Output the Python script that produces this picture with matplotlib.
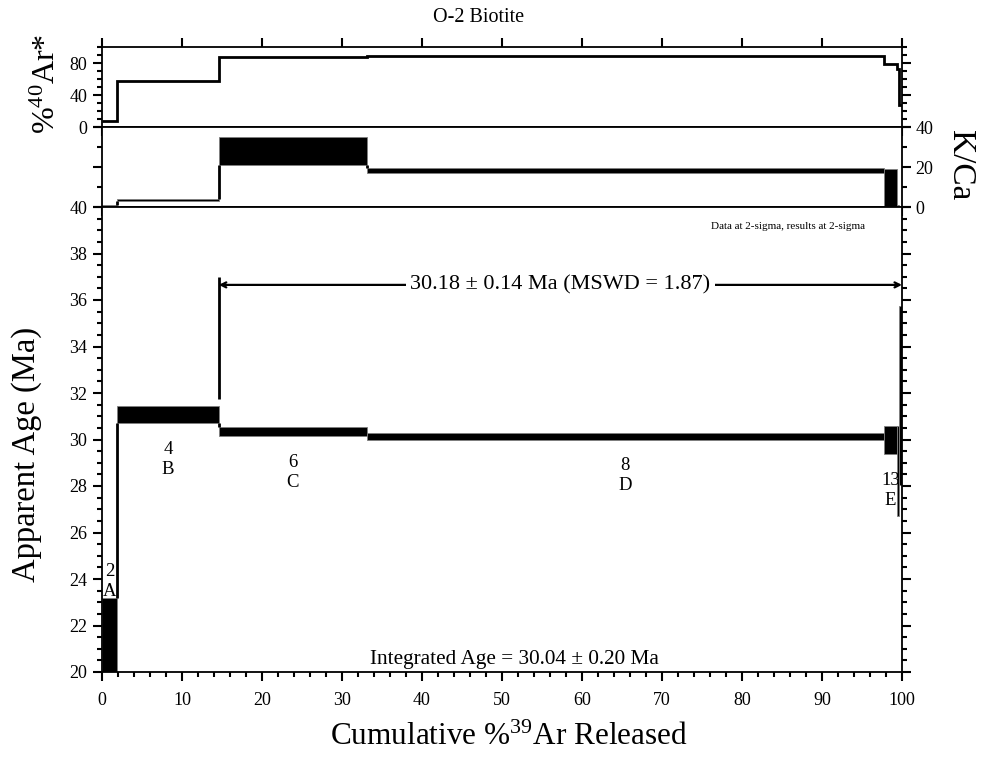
import matplotlib.pyplot as plt
from matplotlib.patches import Rectangle
from matplotlib.ticker import MultipleLocator, FixedLocator

plt.rcParams['font.family'] = ['Liberation Serif', 'DejaVu Serif']
plt.rcParams['mathtext.default'] = 'regular'

# Step-heating results: cumulative %39Ar at the end of each step
cum39 = [1.9, 14.6, 33.1, 97.75, 99.4, 99.6, 100.0]
step_labels = ['2\nA', '4\nB', '6\nC', '8\nD', '13\nE', '', '']

# apparent age (Ma) and 2-sigma error per step
ages = [21.0, 31.06, 30.33, 30.14, 29.98, 28.65, 31.90]
age_err = [2.2, 0.36, 0.20, 0.15, 0.62, 1.95, 3.85]

# K/Ca and 2-sigma error per step
kca = [0.85, 3.6, 27.95, 18.2, 9.2, 0.5, 0.3]
kca_err = [0.3, 0.6, 7.05, 1.4, 9.8, 0.4, 0.3]

# radiogenic 40Ar per step
rad40 = [7.0, 58.0, 88.0, 88.2, 78.4, 72.0, 28.0]

# plateau spans steps C..G
plateau_first, plateau_last = 2, 6
plateau_y = 36.65
plateau_text = '30.18 ± 0.14 Ma (MSWD = 1.87)'
integrated_text = 'Integrated Age = 30.04 ± 0.20 Ma'

edges = [0.0] + cum39
W, H = 986, 759


def draw_boxes(ax, vals, errs):
    # one filled box per step, joined by vertical connectors
    for i, (v, e) in enumerate(zip(vals, errs)):
        x0, x1 = edges[i], edges[i + 1]
        ax.add_patch(Rectangle((x0, v - e), x1 - x0, 2 * e,
                               facecolor='black', edgecolor='#808080', lw=0.6))
        if i > 0:
            pv, pe = vals[i - 1], errs[i - 1]
            lo = min(pv + pe, v + e)
            hi = max(pv - pe, v - e)
            if hi > lo:
                ax.vlines(x0, lo, hi, colors='black', lw=2)


def style_axis(ax):
    ax.set_xlim(0, 100)
    ax.xaxis.set_major_locator(MultipleLocator(10))
    ax.xaxis.set_minor_locator(MultipleLocator(2))
    ax.tick_params(which='both', direction='out', width=1.5, left=True, right=True,
                   labelsize=13, color='black')
    ax.tick_params(which='major', length=6.5)
    ax.tick_params(which='minor', length=3.5)
    ax.tick_params(axis='y', pad=4)
    for s in ax.spines.values():
        s.set_linewidth(1.3)


fig = plt.figure(figsize=(W / 100, H / 100), dpi=100)
ax_top = fig.add_axes([102 / W, 1 - 127 / H, 800 / W, 80 / H])
ax_kca = fig.add_axes([102 / W, 1 - 207 / H, 800 / W, 80 / H])
ax_age = fig.add_axes([102 / W, 1 - 672 / H, 800 / W, 465 / H])

for ax in (ax_top, ax_kca, ax_age):
    style_axis(ax)

# %40Ar* panel
ax_top.stairs(rad40, edges, baseline=None, color='black', lw=2)
ax_top.set_ylim(0, 100)
ax_top.yaxis.set_major_locator(FixedLocator([0, 40, 80]))
ax_top.yaxis.set_minor_locator(MultipleLocator(10))
ax_top.tick_params(top=True, labelbottom=False)

# K/Ca panel
draw_boxes(ax_kca, kca, kca_err)
ax_kca.set_ylim(0, 40)
ax_kca.yaxis.set_major_locator(MultipleLocator(20))
ax_kca.yaxis.set_minor_locator(MultipleLocator(10))
ax_kca.tick_params(labelbottom=False, labelleft=False, labelright=True)
ax_kca.tick_params(axis='y', pad=3)

# age spectrum
draw_boxes(ax_age, ages, age_err)
ax_age.set_ylim(20, 40)
ax_age.yaxis.set_major_locator(MultipleLocator(2))
ax_age.yaxis.set_minor_locator(MultipleLocator(0.5))
ax_age.tick_params(axis='x', pad=8)

for i, lab in enumerate(step_labels):
    if not lab:
        continue
    mid = (edges[i] + edges[i + 1]) / 2
    lo = ages[i] - age_err[i]
    if lo < 20:
        ax_age.text(mid, ages[i] + age_err[i] - 0.1, lab, ha='center', va='bottom',
                    fontsize=13.5, linespacing=1.25)
    else:
        ax_age.text(mid, lo - 0.75, lab, ha='center', va='top',
                    fontsize=13.5, linespacing=1.25)

# plateau bracket
px0, px1 = edges[plateau_first], edges[plateau_last + 1]
tops = [a + e for a, e in zip(ages, age_err)]
ax_age.vlines(px0, max(tops[plateau_first - 1], tops[plateau_first]) + 0.34,
              plateau_y + 0.35, colors='black', lw=2)
ax_age.annotate('', xy=(px0, plateau_y), xytext=(px1, plateau_y),
                arrowprops=dict(arrowstyle='<->', lw=1.6, color='black',
                                shrinkA=0, shrinkB=0, mutation_scale=9))
ax_age.text((px0 + px1) / 2, plateau_y, plateau_text, ha='center', va='center',
            fontsize=16, bbox=dict(facecolor='white', edgecolor='none', pad=3))

ax_age.text(51.5, 20.53, integrated_text, ha='center', va='center', fontsize=15.3)
ax_age.text(85.75, 39.18, 'Data at 2-sigma, results at 2-sigma', ha='center',
            va='center', fontsize=8)

# labels
fig.text(479 / W, 1 - 17 / H, 'O-2 Biotite', ha='center', va='center', fontsize=14.5)
fig.text(27 / W, 1 - 454 / H, 'Apparent Age (Ma)', rotation=90, ha='center',
         va='center', fontsize=23.5)
fig.text(47 / W, 1 - 84 / H, '%$^{40}$Ar*', rotation=90, ha='center',
         va='center', fontsize=23)
fig.text(960 / W, 1 - 165 / H, 'K/Ca', rotation=270, ha='center',
         va='center', fontsize=24)
fig.text(509 / W, 1 - 737 / H, 'Cumulative %$^{39}$Ar Released', ha='center',
         va='center', fontsize=22.5)

fig.savefig('out.png', dpi=100, facecolor='white')
